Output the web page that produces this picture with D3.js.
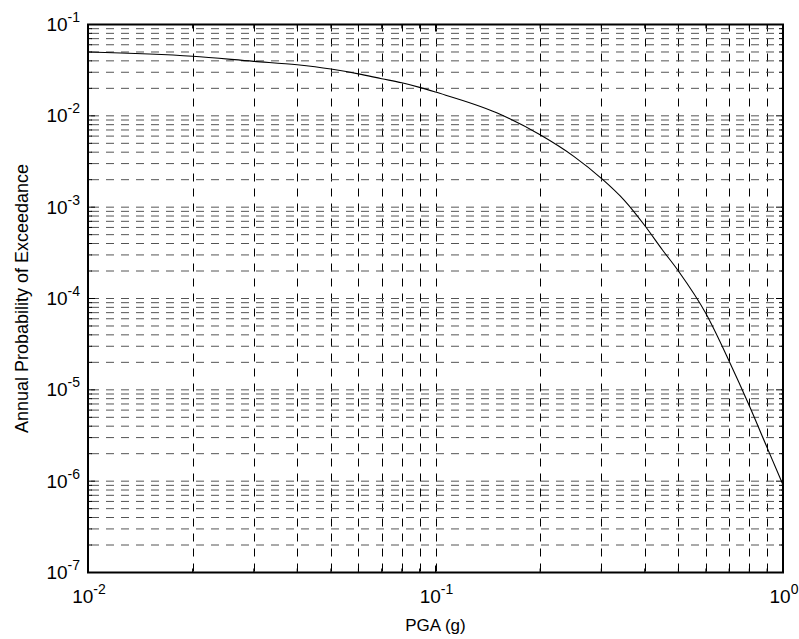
<!DOCTYPE html>
<html>
<head>
<meta charset="utf-8">
<script src="https://cdn.jsdelivr.net/npm/d3@7"></script>
<style>
  html, body { margin: 0; padding: 0; background: #fff; }
  svg { display: block; font-family: "Liberation Sans", Arial, sans-serif; }
</style>
</head>
<body>
<svg id="chart" width="799" height="639"></svg>
<script>
// Seismic hazard curve: annual probability of exceeding a given PGA
const pga = [0.01, 0.02, 0.03, 0.04, 0.05, 0.06, 0.07, 0.08, 0.09, 0.10,
             0.15, 0.20, 0.25, 0.30, 0.35, 0.40, 0.45, 0.50,
             0.60, 0.70, 0.80, 0.90, 1.0];
const exceedance = [0.050, 0.0449, 0.0395, 0.0362, 0.0325, 0.0288, 0.0255, 0.0230, 0.0205, 0.0182,
                    0.0108, 0.0062, 0.0036, 0.00207, 0.00118, 6.3e-4, 3.4e-4, 2.0e-4,
                    6.84e-5, 2.06e-5, 6.7e-6, 2.33e-6, 9.1e-7];

const xDecades = [-2, -1, 0];
const yDecades = [-7, -6, -5, -4, -3, -2, -1];
const xTitle = "PGA (g)";
const yTitle = "Annual Probability of Exceedance";

const plotLeft = 88, plotRight = 783, plotTop = 24.5, plotBottom = 572.5;

const svg = d3.select("#chart");
const x = d3.scaleLog().domain([1e-2, 1]).range([plotLeft, plotRight]);
const y = d3.scaleLog().domain([1e-7, 1e-1]).range([plotBottom, plotTop]);

// Major (decade) and minor (2..9) positions
function logTicks(decades) {
  const major = decades.map(e => Math.pow(10, e));
  const minor = [];
  for (let i = 0; i < decades.length - 1; i++) {
    for (let m = 2; m <= 9; m++) minor.push(m * Math.pow(10, decades[i]));
  }
  return { major, minor };
}
const xt = logTicks(xDecades);
const yt = logTicks(yDecades);
const xAll = xt.major.concat(xt.minor);
const yAll = yt.major.concat(yt.minor);

// Dashed grid
const grid = svg.append("g")
  .attr("stroke-width", 1)
  .attr("stroke-dasharray", "8,7")
  .attr("fill", "none");

grid.append("g").selectAll("line")
  .data(xAll.filter(v => v > 1e-2 && v < 1))
  .join("line")
  .attr("x1", d => Math.round(x(d)) + 0.5).attr("x2", d => Math.round(x(d)) + 0.5)
  .attr("y1", plotBottom).attr("y2", plotTop)
  .attr("stroke", "#000")
  .attr("stroke-dashoffset", -1);

grid.append("g").selectAll("line")
  .data(yAll.filter(v => v > 1e-7 && v < 1e-1))
  .join("line")
  .attr("x1", plotLeft).attr("x2", plotRight)
  .attr("y1", d => y(d)).attr("y2", d => y(d))
  .attr("stroke", "#555")
  .attr("stroke-dashoffset", -3);

// Inward tick marks on all four sides
const ticks = svg.append("g").attr("stroke", "#000").attr("stroke-width", 1);
const majLen = 7, minLen = 4;
[[xt.major, majLen], [xt.minor, minLen]].forEach(([vals, len]) => {
  ticks.append("g").selectAll("line").data(vals).join("line")
    .attr("x1", d => x(d)).attr("x2", d => x(d))
    .attr("y1", plotBottom).attr("y2", plotBottom - len);
  ticks.append("g").selectAll("line").data(vals).join("line")
    .attr("x1", d => x(d)).attr("x2", d => x(d))
    .attr("y1", plotTop).attr("y2", plotTop + len);
});
[[yt.major, majLen], [yt.minor, minLen]].forEach(([vals, len]) => {
  ticks.append("g").selectAll("line").data(vals).join("line")
    .attr("y1", d => y(d)).attr("y2", d => y(d))
    .attr("x1", plotLeft).attr("x2", plotLeft + len);
  ticks.append("g").selectAll("line").data(vals).join("line")
    .attr("y1", d => y(d)).attr("y2", d => y(d))
    .attr("x1", plotRight).attr("x2", plotRight - len);
});

// Hazard curve
const line = d3.line()
  .x((d, i) => x(pga[i]))
  .y(d => y(d))
  .curve(d3.curveMonotoneX);
svg.append("path")
  .datum(exceedance)
  .attr("d", line)
  .attr("fill", "none")
  .attr("stroke", "#000")
  .attr("stroke-width", 1.1);

// Axes box
svg.append("rect")
  .attr("x", plotLeft).attr("y", plotTop)
  .attr("width", plotRight - plotLeft).attr("height", plotBottom - plotTop)
  .attr("fill", "none")
  .attr("stroke", "#000")
  .attr("stroke-width", 2);

// Power-of-ten tick labels
function powerLabel(sel, exp) {
  sel.append("tspan").text("10");
  sel.append("tspan")
    .attr("dy", -9)
    .attr("font-size", 14)
    .text(exp);
}

svg.append("g").selectAll("text").data(yDecades).join("text")
  .attr("x", 80)
  .attr("y", d => y(Math.pow(10, d)) + 6.5)
  .attr("text-anchor", "end")
  .attr("font-size", 19)
  .attr("fill", "#000")
  .each(function (d) { powerLabel(d3.select(this), d); });

svg.append("g").selectAll("text").data(xDecades).join("text")
  .attr("x", d => x(Math.pow(10, d)) + 1)
  .attr("y", 603)
  .attr("text-anchor", "middle")
  .attr("font-size", 19)
  .attr("fill", "#000")
  .each(function (d) { powerLabel(d3.select(this), d); });

// Axis titles
svg.append("text")
  .attr("x", (plotLeft + plotRight) / 2)
  .attr("y", 631)
  .attr("text-anchor", "middle")
  .attr("font-size", 17)
  .attr("fill", "#000")
  .text(xTitle);

svg.append("text")
  .attr("transform", `translate(28, ${(plotTop + plotBottom) / 2}) rotate(-90)`)
  .attr("text-anchor", "middle")
  .attr("font-size", 18)
  .attr("fill", "#000")
  .text(yTitle);
</script>
</body>
</html>
